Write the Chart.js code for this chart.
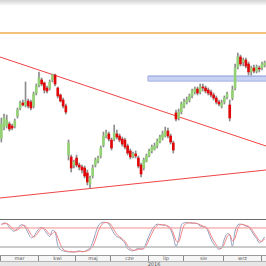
<!DOCTYPE html>
<html>
<head>
<meta charset="utf-8">
<script src="https://cdn.jsdelivr.net/npm/chart.js@4.4.1/dist/chart.umd.min.js"></script>
<style>
  html, body { margin: 0; padding: 0; background: #fff; }
  #wrap { position: relative; width: 266px; height: 266px; overflow: hidden; background: #fff; font-family: "DejaVu Sans", sans-serif; }
  #fade { position: absolute; left: 0; top: 0; width: 266px; height: 6px; background: linear-gradient(#d2d2d2, #fff); }
  #main { position: absolute; left: 0; top: 0; }
  #sep { position: absolute; left: 0; top: 219px; width: 266px; height: 1px; background: #6a6a6a; }
  #osc { position: absolute; left: 0; top: 220px; }
  #months { position: absolute; left: 0; top: 255px; width: 266px; height: 6px; background: #f6f6f6; border-top: 1px solid #9a9a9a; box-sizing: border-box; }
  #years { position: absolute; left: 0; top: 261px; width: 266px; height: 5px; background: #e6e6e6; border-top: 1px solid #b5b5b5; box-sizing: border-box; }
  .cell { position: absolute; top: 0; height: 5px; border-left: 1px solid #8a8a8a; box-sizing: border-box; font-size: 5px; line-height: 5px; color: #555; text-align: center; overflow: hidden; }
  .year { position: absolute; top: 0; font-size: 5px; line-height: 4px; color: #555; transform: translateX(-50%); }
</style>
</head>
<body>
<div id="wrap">
  <div id="fade"></div>
  <canvas id="main" width="266" height="219"></canvas>
  <div id="sep"></div>
  <canvas id="osc" width="266" height="35"></canvas>
  <div id="months"></div>
  <div id="years"></div>
</div>
<script>
// daily candles (price units)
var open  = [81,92,93,95,93,93,103,111,116,114,118,117,113,126,134,139,136,131,131,139,144,131,124,119,113,
             64,62,54,61,54,52,51,46,35,43,54,58,63,74,83,85,79,80,85,83,80,79,73,68,63,
             65,61,54,51,58,63,68,70,73,77,81,83,88,83,76,106,101,107,113,117,119,123,127,130,127,
             132,131,129,127,124,121,117,113,117,122,114,121,131,152,162,157,159,155,147,151,148,151,151,154];
var high  = [101,105,104,97,95,100,111,118,119,137,120,119,127,135,147,141,137,133,139,145,145,132,125,121,115,
             79,64,59,64,56,54,53,49,43,54,61,63,73,87,89,87,81,94,89,85,82,81,75,70,67,
             68,63,56,61,65,70,74,76,80,84,88,92,91,85,78,109,110,117,120,122,125,130,132,132,135,
             135,133,131,129,126,123,119,119,123,127,119,133,155,166,164,161,161,157,153,154,154,153,157,158];
var low   = [77,89,91,88,89,91,101,109,113,112,111,109,111,124,132,133,126,126,129,137,133,121,117,111,105,
             59,47,51,52,49,46,41,34,31,41,52,56,61,72,81,78,69,78,80,77,73,70,64,60,61,
             61,51,42,49,57,62,66,69,71,76,79,82,81,75,66,98,99,105,111,115,117,121,125,124,125,
             128,126,124,122,119,115,113,111,115,120,98,119,129,150,153,153,151,144,144,146,146,147,149,152];
var close = [95,101,99,90,91,98,109,116,114,117,113,111,125,133,141,135,129,128,137,144,135,123,118,113,107,
             76,51,57,54,52,49,43,37,41,51,59,61,71,83,86,80,71,86,82,79,75,72,66,62,65,
             63,53,45,59,63,68,72,73,78,82,85,88,83,77,69,100,107,115,117,119,123,128,130,126,132,
             131,128,126,124,121,117,115,116,121,125,101,129,151,162,155,159,153,147,151,148,152,150,155,156];

// trend lines, resistance, zone
var downTrend = [[-0.5, 162], [98.5, 73]];
var upTrend = [[-0.5, 21], [98.5, 49]];
var resistance = 186;
var zoneLow = 138, zoneHigh = 143, zoneStart = 54.6;

// stochastic %K / %D
var stochK = [90,96,93,82,72,70,79,88,90,80,64,50,52,66,78,82,74,62,53,72,68,25,12,8,6,
              5,5,4,6,8,5,6,11,17,35,62,86,95,98,97,93,77,62,53,49,42,32,15,10,8,
              12,16,13,16,35,56,74,86,92,90,89,89,84,75,52,22,45,90,96,97,96,95,95,93,86,
              84,82,68,45,30,20,13,18,45,62,58,22,70,90,92,90,86,83,72,58,47,33,40,52];
var stochD = [92,93,94,89,80,73,74,81,88,86,75,60,52,57,70,79,78,70,60,62,68,50,28,13,8,
              6,5,5,5,6,6,6,8,12,22,42,68,86,95,97,96,88,73,60,52,46,38,25,14,10,
              10,13,14,15,25,44,62,78,88,91,90,89,86,80,64,40,36,62,88,95,96,96,95,94,90,
              86,83,75,57,40,27,17,16,30,52,60,40,48,78,90,91,88,85,78,65,53,40,38,46];
var stochLevels = [80, 20];

var months = ['mar', 'kwi', 'maj', 'cze', 'lip', 'sie', 'wrz', 'paź'];
var monthStarts = [0, 14, 28, 41, 55, 68, 83, 97, 111];
var year = '2016';

var xMin = -0.5, xMax = open.length - 0.5;

var green = '#94d174', red = '#e00808';
var bodyColors = open.map(function (o, i) { return close[i] >= o ? green : red; });

function pts(pairs) { return pairs.map(function (p) { return { x: p[0], y: p[1] }; }); }

var mainChart = new Chart(document.getElementById('main').getContext('2d'), {
  type: 'bar',
  data: {
    datasets: [
      {
        type: 'line', order: 10,
        data: [{ x: zoneStart, y: zoneHigh }, { x: xMax, y: zoneHigh }],
        borderColor: '#8b9ad8', borderWidth: 1, pointRadius: 0,
        fill: '+1', backgroundColor: 'rgba(180,195,240,0.75)'
      },
      {
        type: 'line', order: 10,
        data: [{ x: zoneStart, y: zoneLow }, { x: xMax, y: zoneLow }],
        borderColor: '#8b9ad8', borderWidth: 1, pointRadius: 0, fill: false
      },
      {
        type: 'line', order: 10,
        data: [{ x: zoneStart, y: zoneLow }, { x: zoneStart, y: zoneHigh }],
        borderColor: '#8b9ad8', borderWidth: 1, pointRadius: 0, fill: false
      },
      {
        type: 'line', order: 9,
        data: [{ x: xMin, y: resistance }, { x: xMax, y: resistance }],
        borderColor: '#f2c27c', borderWidth: 2, pointRadius: 0, fill: false
      },
      {
        type: 'line', order: 5, data: pts(downTrend),
        borderColor: '#f04444', borderWidth: 1, pointRadius: 0, fill: false
      },
      {
        type: 'line', order: 5, data: pts(upTrend),
        borderColor: '#f04444', borderWidth: 1, pointRadius: 0, fill: false
      },
      {
        order: 2, grouped: false,
        data: open.map(function (o, i) { return { x: i, y: [low[i], high[i]] }; }),
        backgroundColor: '#8c8c8c', barThickness: 1, borderWidth: 0
      },
      {
        order: 1, grouped: false,
        data: open.map(function (o, i) { return { x: i, y: [o, close[i]] }; }),
        backgroundColor: bodyColors, borderWidth: 0,
        barThickness: 2, minBarLength: 1
      }
    ]
  },
  options: {
    responsive: false, animation: false, devicePixelRatio: 1,
    layout: { padding: 0 },
    plugins: { legend: { display: false }, tooltip: { enabled: false } },
    scales: {
      x: { type: 'linear', min: xMin, max: xMax, offset: false, display: false },
      y: { min: 0, max: 219, display: false }
    }
  }
});

new Chart(document.getElementById('osc').getContext('2d'), {
  type: 'line',
  data: {
    datasets: [
      {
        data: [{ x: xMin, y: stochLevels[0] }, { x: xMax, y: stochLevels[0] }],
        borderColor: '#f29090', borderWidth: 1, pointRadius: 0
      },
      {
        data: [{ x: xMin, y: stochLevels[1] }, { x: xMax, y: stochLevels[1] }],
        borderColor: '#b8b8b8', borderWidth: 1.5, pointRadius: 0
      },
      {
        data: stochD.map(function (v, i) { return { x: i, y: v }; }),
        borderColor: '#f48282', borderWidth: 1, pointRadius: 0, tension: 0.35
      },
      {
        data: stochK.map(function (v, i) { return { x: i, y: v }; }),
        borderColor: '#95a0be', borderWidth: 1, pointRadius: 0, tension: 0.35
      }
    ]
  },
  options: {
    responsive: false, animation: false, devicePixelRatio: 1,
    layout: { padding: 0 },
    plugins: { legend: { display: false }, tooltip: { enabled: false } },
    scales: {
      x: { type: 'linear', min: xMin, max: xMax, display: false },
      y: { min: -5, max: 105, display: false }
    }
  }
});

// month / year boxes under the panels, placed with the price chart's x scale
var xs = mainChart.scales.x;
var monthRow = document.getElementById('months');
for (var m = 0; m < months.length; m++) {
  var a = m === 0 ? 0 : xs.getPixelForValue(monthStarts[m] - 0.5);
  var b = xs.getPixelForValue(monthStarts[m + 1] - 0.5);
  var c = document.createElement('div');
  c.className = 'cell';
  c.style.left = Math.round(a) + 'px';
  c.style.width = Math.round(b - a) + 'px';
  c.textContent = months[m];
  monthRow.appendChild(c);
}
var y = document.createElement('div');
y.className = 'year';
y.style.left = Math.round(xs.getPixelForValue(57)) + 'px';
y.textContent = year;
document.getElementById('years').appendChild(y);
</script>
</body>
</html>
